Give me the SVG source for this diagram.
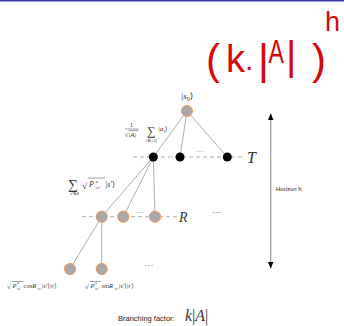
<svg xmlns="http://www.w3.org/2000/svg" width="344" height="326" viewBox="0 0 344 326">
<style>
.edge{stroke:#9a9a9a;stroke-width:0.8;fill:none}
.dash{stroke:#9a9a9a;stroke-width:0.8;stroke-dasharray:4 3;fill:none}
.gnode{fill:#a8a8a8;stroke:#f09a60;stroke-width:1}
.bnode{fill:#000}
.m{font-family:"Liberation Serif","DejaVu Serif",serif;font-style:italic;fill:#333}
.mr{font-family:"Liberation Serif","DejaVu Serif",serif;fill:#333}
.s{font-family:"Liberation Sans",Arial,sans-serif;fill:#222}
.red{font-family:"Liberation Sans",Arial,sans-serif;fill:#d80808}
.vinc{stroke:#444;stroke-width:0.5}
</style>
<defs>
<marker id="ah" viewBox="0 0 10 10" refX="9" refY="5" markerWidth="6" markerHeight="6" orient="auto-start-reverse">
<path d="M0,1 L10,5 L0,9 z" fill="#000"/>
</marker>
</defs>
<rect width="344" height="326" fill="#fff"/>
<line x1="0" y1="0.8" x2="344" y2="0.8" stroke="#3a3aa8" stroke-width="1.6"/>

<g id="handwriting">
<text class="red" x="206" y="74" font-size="42">(</text>
<text class="red" x="226" y="72" font-size="38">k</text>
<text class="red" x="245" y="70" font-size="30">.</text>
<text class="red" x="258" y="74" font-size="42">|</text>
<text class="red" transform="translate(268.5,63) scale(0.68,1)" font-size="34">A</text>
<text class="red" x="286" y="70" font-size="40">|</text>
<text class="red" x="312" y="74" font-size="42">)</text>
<text class="red" x="325" y="31" font-size="27">h</text>
</g>

<g id="connectors">
<line class="dash" x1="133" y1="157" x2="243" y2="157"/>
<line class="dash" x1="82" y1="216.7" x2="177" y2="216.7"/>
<line class="edge" x1="187" y1="111" x2="153.3" y2="157"/>
<line class="edge" x1="187" y1="111" x2="180" y2="157"/>
<line class="edge" x1="187" y1="111" x2="227.3" y2="157"/>
<line class="edge" x1="153.3" y1="157" x2="101.7" y2="216.7"/>
<line class="edge" x1="153.3" y1="157" x2="123.3" y2="216.7"/>
<line class="edge" x1="153.3" y1="157" x2="155" y2="216.7"/>
<line class="edge" x1="101.7" y1="216.7" x2="70" y2="269"/>
<line class="edge" x1="101.7" y1="216.7" x2="101.7" y2="269"/>
<line x1="270.7" y1="114" x2="270.7" y2="268" stroke="#9a9a9a" stroke-width="1.2" marker-start="url(#ah)" marker-end="url(#ah)"/>
</g>

<g id="root">
<circle class="gnode" cx="187" cy="111" r="5.5"/>
<text class="m" x="187" y="99" font-size="9" text-anchor="middle">|s<tspan font-style="normal" font-size="6" dy="1.5">0</tspan><tspan font-style="normal" dy="-1.5">⟩</tspan></text>
</g>

<g id="t1"><circle class="bnode" cx="153.3" cy="157" r="4.5"/></g>
<g id="t2"><circle class="bnode" cx="180" cy="157" r="4.5"/></g>
<g id="t3"><circle class="bnode" cx="227.3" cy="157" r="4.5"/></g>
<text class="mr" x="200" y="154" font-size="7" text-anchor="middle">···</text>
<text class="m" x="247" y="163" font-size="16">T</text>

<g id="r1"><circle class="gnode" cx="101.7" cy="216.7" r="5.6"/></g>
<g id="r2"><circle class="gnode" cx="123.3" cy="216.7" r="5.6"/></g>
<g id="r3"><circle class="gnode" cx="155" cy="216.7" r="5.6"/></g>
<text class="mr" x="139.5" y="215" font-size="7" text-anchor="middle">···</text>
<text class="m" x="179" y="222" font-size="14">R</text>
<text class="mr" x="217" y="215" font-size="9" text-anchor="middle">···</text>

<g id="b1"><circle class="gnode" cx="70" cy="269" r="5.6"/></g>
<g id="b2"><circle class="gnode" cx="101.7" cy="269" r="5.6"/></g>
<text class="mr" x="149" y="268" font-size="9" text-anchor="middle">···</text>

<g id="label-actions">
<text class="mr" x="131.5" y="127" font-size="7" text-anchor="middle">1</text>
<line class="vinc" x1="125" y1="129" x2="138.5" y2="129"/>
<text class="mr" x="124.5" y="137" font-size="7">√<tspan font-style="italic">|A|</tspan></text>
<line class="vinc" x1="129" y1="130.5" x2="138.5" y2="130.5"/>
<text class="mr" x="151" y="135" font-size="12" text-anchor="middle">∑</text>
<text class="m" x="151.5" y="142" font-size="5" text-anchor="middle">i∈|A|</text>
<text class="m" x="158" y="131" font-size="7">|a<tspan font-size="5" dy="1.5">i</tspan><tspan font-style="normal" dy="-1.5">⟩</tspan></text>
</g>

<g id="label-states">
<text class="mr" x="73" y="189" font-size="14" text-anchor="middle">∑</text>
<text class="m" x="74.5" y="195" font-size="5" text-anchor="middle">s′∈S</text>
<text class="mr" x="82" y="189" font-size="9">√</text>
<line class="vinc" x1="88" y1="178" x2="105" y2="178"/>
<text class="m" x="89" y="187" font-size="8">P</text>
<text class="m" x="95.5" y="183" font-size="5">a</text>
<text class="m" x="95.5" y="189" font-size="5">ss′</text>
<text class="m" x="105" y="187" font-size="8">|s′<tspan font-style="normal">⟩</tspan></text>
</g>

<g id="label-bottom1">
<text class="mr" x="7" y="289" font-size="7">√</text>
<line class="vinc" x1="12" y1="281.5" x2="23" y2="281.5"/>
<text class="m" x="12.5" y="288" font-size="6.5">P</text>
<text class="m" x="17" y="284" font-size="4">a</text>
<text class="m" x="17" y="290" font-size="4">ss′</text>
<text class="m" x="23.5" y="288" font-size="6.5">cosR</text>
<text class="m" x="37.5" y="290" font-size="4">ss</text>
<text class="m" x="41.5" y="288" font-size="6.5">|s′<tspan font-style="normal">⟩</tspan>|r<tspan font-style="normal">⟩</tspan></text>
</g>

<g id="label-bottom2">
<text class="mr" x="85" y="289" font-size="7">√</text>
<line class="vinc" x1="90" y1="281.5" x2="101" y2="281.5"/>
<text class="m" x="90.5" y="288" font-size="6.5">P</text>
<text class="m" x="95" y="284" font-size="4">a</text>
<text class="m" x="95" y="290" font-size="4">ss′</text>
<text class="m" x="101.5" y="288" font-size="6.5">sinR</text>
<text class="m" x="114.5" y="290" font-size="4">ss</text>
<text class="m" x="118.5" y="288" font-size="6.5">|s′<tspan font-style="normal">⟩</tspan>|r<tspan font-style="normal">⟩</tspan></text>
</g>

<text class="s" x="276" y="191" font-size="6">Horizon h</text>
<text class="s" x="118" y="321" font-size="7.5">Branching factor:</text>
<text class="m" x="185" y="321" font-size="16">k<tspan font-style="normal">|</tspan>A<tspan font-style="normal">|</tspan></text>
</svg>
